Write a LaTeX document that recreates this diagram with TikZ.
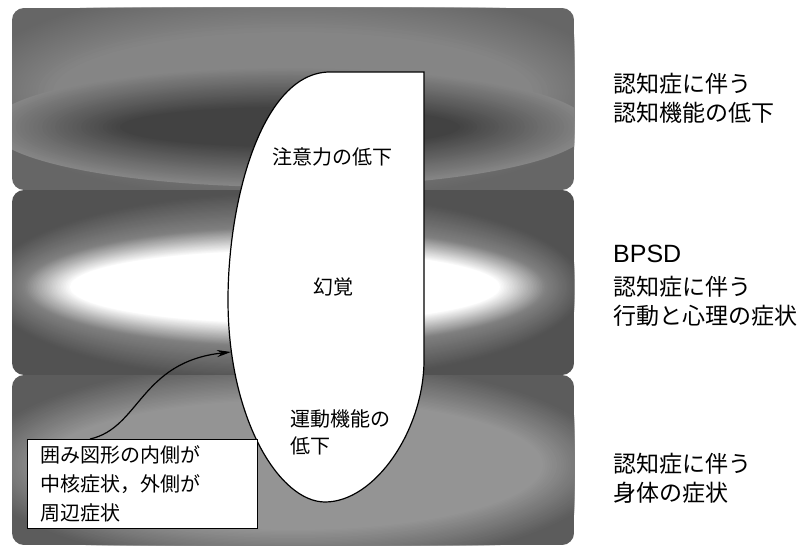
\documentclass[tikz,border=0pt]{standalone}
\usepackage{fontspec}
\newfontfamily\jp{Noto Sans CJK JP}
\usetikzlibrary{arrows.meta}
\colorlet{bOneRim}{black!60}
\colorlet{bOneBase}{black!48}
\colorlet{bOneDark}{black!74}
\colorlet{bTwoRim}{black!68}
\colorlet{bTwoMid}{black!50}
\colorlet{bThreeRim}{black!64}
\colorlet{bThreeBase}{black!42}
% concentric-ellipse glow: centre x, centre y, outer rx, outer ry, inner rx, inner ry, inner colour, outer colour
\newcommand{\glowellipse}[8]{%
  \foreach \gi in {0,...,30}{%
    \pgfmathtruncatemacro\gpct{\gi*100/30}%
    \pgfmathsetmacro\gax{#3-(#3-#5)*\gi/30}%
    \pgfmathsetmacro\gay{#4-(#4-#6)*\gi/30}%
    \fill[#7!\gpct!#8] (#1,#2) ellipse ({\gax} and {\gay});
  }}
\tikzset{
  bandbox/.style={rounded corners=12pt},
  ovaltext/.style={font=\jp\fontsize{20}{24}\selectfont, inner sep=0pt},
  sidetext/.style={font=\jp\fontsize{23}{29}\selectfont, align=left, anchor=west, inner sep=0pt},
  notebox/.style={draw=black, line width=1pt, fill=white, font=\jp\fontsize{20}{29}\selectfont, align=left, anchor=north west, inner sep=0pt, minimum width=230pt, minimum height=89pt, text width=204pt},
  pointer/.style={line width=1.2pt, -{Stealth[length=14pt,width=7pt]}}
}
\begin{document}
\begin{tikzpicture}[x=1pt,y=-1pt]
\useasboundingbox (0,0) rectangle (805,553);
% band 1
\begin{scope}
  \clip[bandbox] (12,8) rectangle (574,190);
  \fill[bOneRim] (12,8) rectangle (574,190);
  \glowellipse{293}{92}{330}{110}{240}{60}{bOneBase}{bOneRim}
  \glowellipse{290}{127}{300}{60}{170}{20}{bOneDark}{bOneBase}
\end{scope}
% band 2
\begin{scope}
  \clip[bandbox] (12,190) rectangle (574,375);
  \fill[bTwoRim] (12,190) rectangle (574,375);
  \glowellipse{285}{287}{300}{95}{262}{60}{bTwoMid}{bTwoRim}
  \glowellipse{285}{287}{262}{60}{215}{36}{white}{bTwoMid}
  \fill[white] (285,287) ellipse (215 and 36);
\end{scope}
% band 3
\begin{scope}
  \clip[bandbox] (12,375) rectangle (574,545);
  \fill[bThreeRim] (12,375) rectangle (574,545);
  \glowellipse{293}{465}{320}{105}{250}{65}{bThreeBase}{bThreeRim}
\end{scope}
% core shape
\draw[fill=white, line width=1.2pt] (424,72) -- (330,72)
  .. controls (262,72) and (228,200) .. (228,300)
  .. controls (228,420) and (280,502) .. (325,502)
  .. controls (375,502) and (424,430) .. (424,360) -- cycle;
\node[ovaltext] (attn) at (332,157) {注意力の低下};
\node[ovaltext] (hall) at (333,287) {幻覚};
\node[ovaltext, anchor=north west, align=left, font=\jp\fontsize{20}{27}\selectfont] (motor) at (290,409) {運動機能の\\低下};
% note box
\node[notebox] (note) at (27,439) {囲み図形の内側が\\中核症状，外側が\\周辺症状};
\coordinate (start) at (90,439);
\coordinate (tip) at (231,352);
\draw[pointer] (start) .. controls (140,428) and (140,362) .. (tip);
% right column
\node[sidetext] (cog) at (613,98) {認知症に伴う\\認知機能の低下};
\node[sidetext, font=\fontsize{25}{28}\selectfont\fontspec{Liberation Sans}] (bpsd) at (613,254) {BPSD};
\node[sidetext] (bpsdtext) at (613,301) {認知症に伴う\\行動と心理の症状};
\node[sidetext] (body) at (613,478) {認知症に伴う\\身体の症状};
\end{tikzpicture}
\end{document}
